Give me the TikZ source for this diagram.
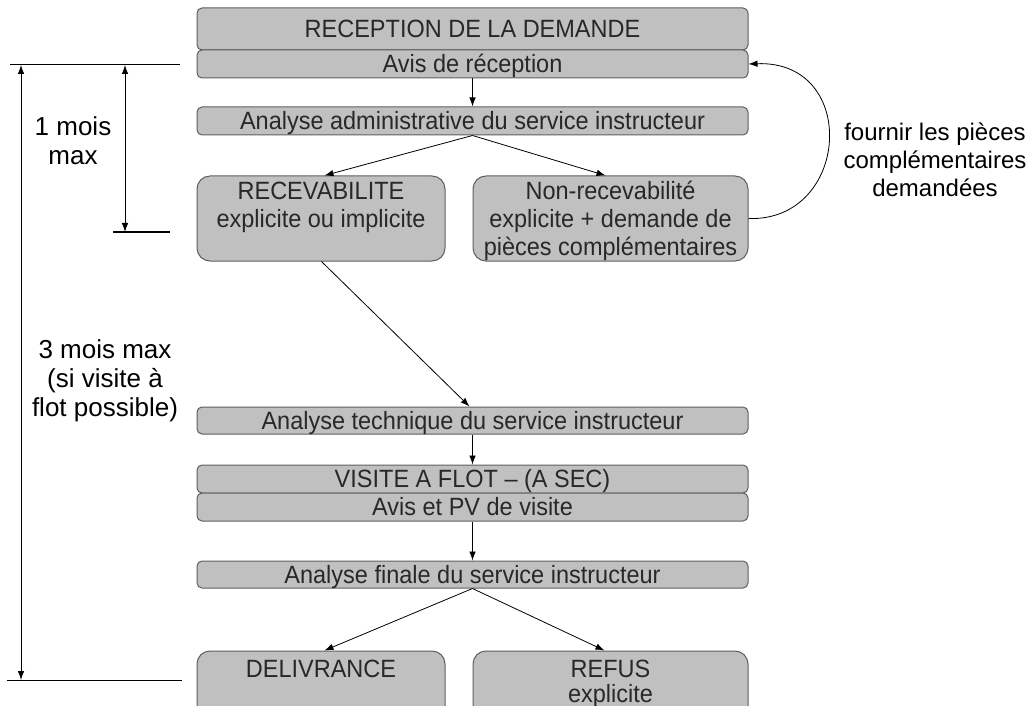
\documentclass[tikz,border=0pt]{standalone}
\usepackage{fontspec}
\setmainfont{Liberation Sans}
\newfontfamily\boxfont{Liberation Sans}[FakeStretch=0.94]
\usetikzlibrary{arrows.meta,calc}
\definecolor{boxgray}{RGB}{192,192,192}
\definecolor{edgegray}{RGB}{95,95,95}
\definecolor{txtgray}{RGB}{40,40,40}
\begin{document}
\begin{tikzpicture}[x=1pt,y=-1pt,
  flatbox/.style={draw=edgegray, fill=boxgray, line width=1pt, rounded corners=5pt,
    inner sep=0pt, minimum width=551pt, text=txtgray,
    font=\boxfont\fontsize{25}{28}\selectfont, text height=17.9pt, text depth=0pt},
  tallbox/.style={draw=edgegray, fill=boxgray, line width=1pt, rounded corners=13pt,
    inner sep=0pt},
  boxtext/.style={text=txtgray, font=\boxfont\fontsize{25}{28}\selectfont,
    align=center, inner sep=0pt, anchor=north},
  flow/.style={-{Latex[length=9pt,width=6.5pt]}, line width=0.8pt, black},
  dimline/.style={{Latex[length=9pt,width=6.5pt]}-{Latex[length=9pt,width=6.5pt]}, line width=0.8pt},
  tickline/.style={line width=1pt},
  lbl/.style={font=\fontsize{26}{29}\selectfont, align=center, inner sep=0pt, text=black}
]
\useasboundingbox (0,0) rectangle (1029,706);
\clip (0,0) rectangle (1029,706);

% stacked flat boxes
\node[flatbox, minimum height=42pt] (rec) at (472.5,29) {RECEPTION DE LA DEMANDE};
\node[flatbox, minimum height=28pt] (avis) at (472.5,64) {Avis de réception};
\node[flatbox, minimum height=28pt] (admin) at (472.5,121) {Analyse administrative du service instructeur};

% tall boxes
\node[tallbox, minimum width=248pt, minimum height=85pt] (recev) at (321,218.5) {};
\node[boxtext] (recevt) at (321,179.4) {\strut RECEVABILITE\\\strut explicite ou implicite};
\node[tallbox, minimum width=275pt, minimum height=85pt] (nonrec) at (610.5,218.5) {};
\node[boxtext] (nonrect) at (610.5,179.4) {\strut Non-recevabilité\\\strut explicite + demande de\\\strut pièces complémentaires};

\node[flatbox, minimum height=27pt] (tech) at (472.5,420.5) {Analyse technique du service instructeur};
\node[flatbox, minimum height=28pt] (visite) at (472.5,479) {VISITE A FLOT – (A SEC)};
\node[flatbox, minimum height=28pt] (pv) at (472.5,507) {Avis et PV de visite};
\node[flatbox, minimum height=27pt] (finale) at (472.5,574.5) {Analyse finale du service instructeur};

\node[tallbox, minimum width=248pt, minimum height=85pt] (deliv) at (321,693.5) {};
\node[boxtext, font=\boxfont\fontsize{25}{22}\selectfont] (delivt) at (321,659.4) {\strut DELIVRANCE};
\node[tallbox, minimum width=275pt, minimum height=85pt] (refus) at (610.5,693.5) {};
\node[boxtext, font=\boxfont\fontsize{25}{22}\selectfont] (refust) at (610.5,659.4) {\strut REFUS\\\strut explicite};

% connectors
\draw[flow] (avis.south) -- (admin.north);
\draw[flow] (admin.south) -- ([xshift=128pt]recev.north west);
\draw[flow] (admin.south) -- ([xshift=133pt]nonrec.north west);
\draw[flow] ([xshift=125pt]recev.south west) -- ([xshift=273pt]tech.north west);
\draw[flow] (tech.south) -- (visite.north);
\draw[flow] (pv.south) -- (finale.north);
\draw[flow] (finale.south) -- ([xshift=128pt]deliv.north west);
\draw[flow] (finale.south) -- ([xshift=132pt]refus.north west);
\draw[flow] (nonrec.east) .. controls (850,222) and (860,60) .. (avis.east);

\node[lbl, font=\fontsize{24}{28}\selectfont] (supply) at (935,160) {fournir les pièces\\complémentaires\\demandées};

% dimension lines
\coordinate (t1) at (10,65);
\coordinate (t2) at (180,65);
\coordinate (m1) at (113,232);
\coordinate (m2) at (170,232);
\coordinate (b1) at (7,680);
\coordinate (b2) at (182,680);
\coordinate (oa) at (21,65);
\coordinate (ob) at (21,680);
\coordinate (ia) at (125,65);
\coordinate (ib) at (125,232);
\draw[tickline] (t1) -- (t2);
\draw[tickline] (m1) -- (m2);
\draw[tickline] (b1) -- (b2);
\draw[dimline] (oa) -- (ob);
\draw[dimline] (ia) -- (ib);

\node[lbl] (one) at (73,141) {1 mois\\max};
\node[lbl] (three) at (105,381) {3 mois max\\(si visite à\\flot possible)};
\end{tikzpicture}
\end{document}
